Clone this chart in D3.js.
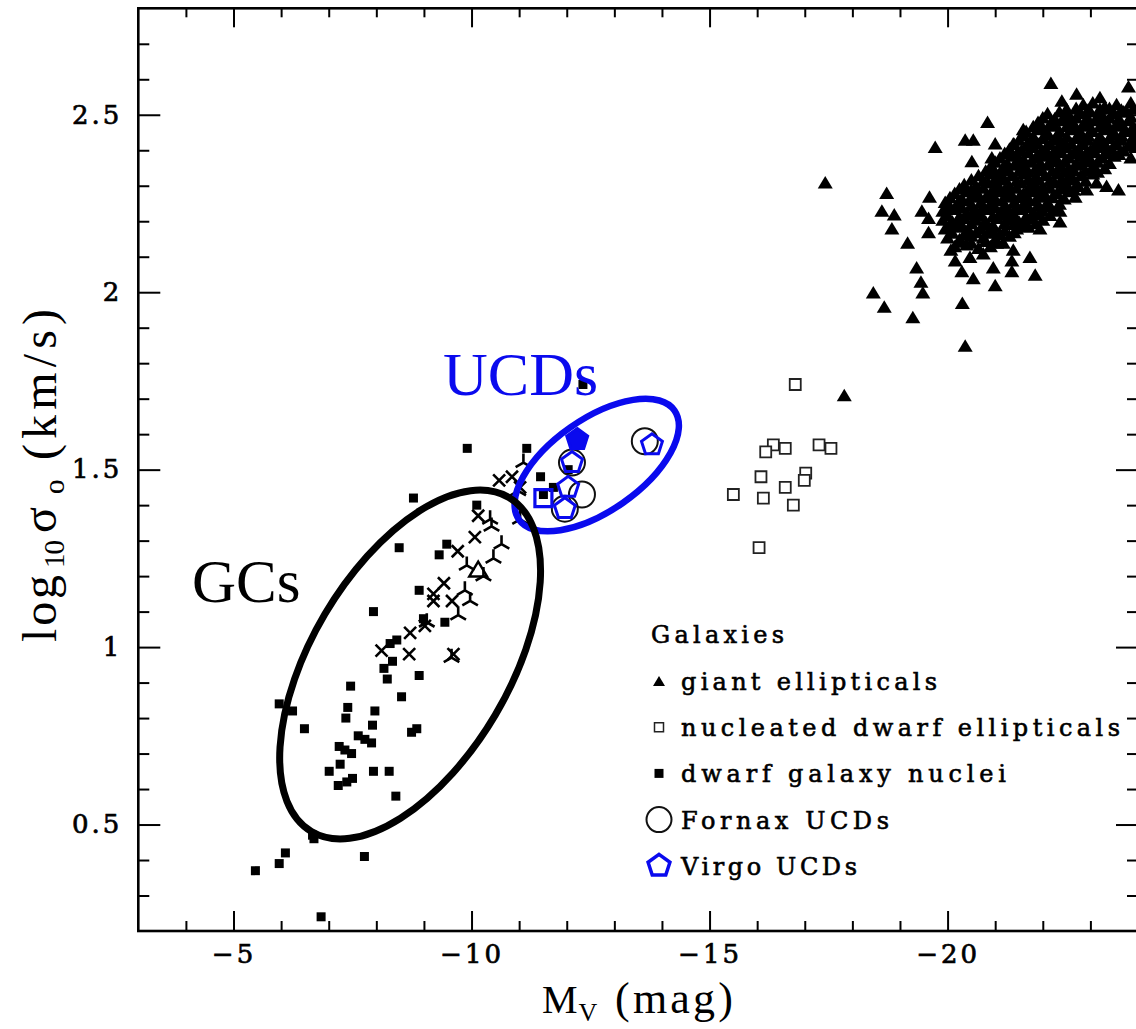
<!DOCTYPE html>
<html>
<head>
<meta charset="utf-8">
<script src="https://cdn.jsdelivr.net/npm/d3@7"></script>
<style>
  html, body { margin: 0; padding: 0; background: #fff; }
  svg { display: block; }
</style>
</head>
<body>
<script>
// ---- Data: absolute magnitude M_V (mag) and log10 of central velocity dispersion (km/s) ----

const xMajorTicks = [-5, -10, -15, -20];
const xMinorTicks = [-4, -6, -7, -8, -9, -11, -12, -13, -14, -16, -17, -18, -19, -21, -22, -23];
const yMajorTicks = [0.5, 1, 1.5, 2, 2.5];
const yMinorTicks = [0.3, 0.4, 0.6, 0.7, 0.8, 0.9, 1.1, 1.2, 1.3, 1.4, 1.6, 1.7, 1.8, 1.9, 2.1, 2.2, 2.3, 2.4, 2.6, 2.7];

// giant ellipticals (filled triangles)
const giantEllipticals = [
  [-17.43,2.31],[-17.83,1.71],[-18.72,2.28],[-18.62,2.23],[-18.88,2.22],[-18.83,2.18],[-19.16,2.14],
  [-19.35,2.07],[-19.44,2.03],[-19.48,2.00],[-18.44,2.00],[-18.67,1.96],[-19.27,1.93],[-20.31,1.97],
  [-20.37,1.85],[-19.74,2.41],[-20.84,2.48],[-19.62,2.27],[-19.46,2.23],[-19.60,2.21],[-19.60,2.17],
  [-20.37,2.43],[-20.54,2.43],[-21.00,2.42],[-20.51,2.37],[-21.59,2.46],[-21.38,2.42],[-22.17,2.59],
  [-22.71,2.56],[-22.40,2.54],[-23.20,2.55],[-23.80,2.58],[-23.76,2.51],[-23.13,2.31],[-23.34,2.30],
  [-23.59,2.29],[-22.92,2.29],[-22.68,2.27],[-22.36,2.23],[-22.36,2.20],[-21.94,2.18],[-21.73,2.10],
  [-21.84,2.05],[-21.38,2.12],[-21.35,2.09],[-21.35,2.06],[-20.96,2.07],[-21.00,2.02],[-20.54,2.04],
  [-20.30,2.06],[-20.16,2.09],[-20.07,2.12],[-20.47,2.10],[-20.75,2.11],[-21.03,2.14],[-21.17,2.14],
  [-20.96,2.17],[-20.93,2.38],
  [-22.85,2.53],[-23.05,2.535],[-23.30,2.525],[-23.55,2.53],[-23.85,2.535],
  [-22.50,2.518],[-22.70,2.52],[-22.95,2.515],[-23.20,2.518],[-23.40,2.52],[-23.65,2.515],[-23.90,2.518],
  [-22.10,2.505],[-22.35,2.51],[-22.55,2.50],[-22.80,2.505],[-23.00,2.51],[-23.25,2.50],[-23.50,2.505],[-23.70,2.51],
  [-22.00,2.493],[-22.25,2.49],[-22.50,2.495],[-22.70,2.493],[-22.95,2.49],[-23.15,2.495],[-23.40,2.493],[-23.60,2.49],[-23.85,2.495],
  [-21.90,2.48],[-22.15,2.475],[-22.40,2.485],[-22.60,2.48],[-22.85,2.475],[-23.10,2.485],[-23.30,2.48],[-23.55,2.475],[-23.80,2.485],
  [-21.80,2.468],[-22.00,2.465],[-22.25,2.47],[-22.50,2.468],[-22.70,2.465],[-22.95,2.47],[-23.20,2.468],[-23.40,2.465],[-23.65,2.47],[-23.90,2.468],
  [-21.65,2.455],[-21.90,2.46],[-22.10,2.45],[-22.35,2.455],[-22.60,2.46],[-22.80,2.45],[-23.05,2.455],[-23.30,2.46],[-23.50,2.45],[-23.75,2.455],[-23.95,2.46],
  [-21.60,2.443],[-21.80,2.44],[-22.05,2.445],[-22.30,2.443],[-22.50,2.44],[-22.75,2.445],[-22.95,2.443],[-23.20,2.44],[-23.45,2.445],[-23.65,2.443],[-23.90,2.44],
  [-21.50,2.43],[-21.75,2.425],[-22.00,2.435],[-22.25,2.43],[-22.45,2.425],[-22.70,2.435],[-22.95,2.43],[-23.20,2.425],[-23.40,2.435],[-23.65,2.43],[-23.90,2.425],
  [-21.40,2.418],[-21.65,2.415],[-21.90,2.42],[-22.15,2.418],[-22.35,2.415],[-22.60,2.42],[-22.85,2.418],[-23.10,2.415],[-23.30,2.42],[-23.55,2.418],[-23.80,2.415],
  [-21.30,2.405],[-21.55,2.40],[-21.80,2.41],[-22.05,2.405],[-22.30,2.40],[-22.50,2.41],[-22.75,2.405],[-23.00,2.40],[-23.25,2.41],[-23.45,2.405],[-23.70,2.40],[-23.95,2.41],
  [-21.20,2.393],[-21.45,2.39],[-21.70,2.395],[-21.95,2.393],[-22.20,2.39],[-22.40,2.395],[-22.65,2.393],[-22.90,2.39],[-23.10,2.395],[-23.35,2.393],[-23.60,2.39],
  [-21.10,2.38],[-21.35,2.385],[-21.60,2.375],[-21.85,2.38],[-22.10,2.385],[-22.30,2.375],[-22.55,2.38],[-22.80,2.385],[-23.00,2.375],[-23.25,2.38],[-23.50,2.385],[-23.85,2.38],
  [-21.00,2.368],[-21.25,2.365],[-21.50,2.37],[-21.75,2.368],[-21.95,2.365],[-22.20,2.37],[-22.45,2.368],[-22.70,2.365],[-22.90,2.37],[-23.15,2.368],[-23.40,2.365],
  [-20.90,2.355],[-21.15,2.35],[-21.40,2.36],[-21.60,2.355],[-21.85,2.35],[-22.10,2.36],[-22.35,2.355],[-22.55,2.35],[-22.80,2.36],[-23.05,2.355],[-23.30,2.35],
  [-20.80,2.343],[-21.00,2.34],[-21.25,2.345],[-21.50,2.343],[-21.70,2.34],[-21.95,2.345],[-22.20,2.343],[-22.45,2.34],[-22.65,2.345],[-22.90,2.343],[-23.15,2.34],
  [-20.65,2.33],[-20.90,2.335],[-21.10,2.325],[-21.35,2.33],[-21.60,2.335],[-21.85,2.325],[-22.05,2.33],[-22.30,2.335],[-22.55,2.325],[-22.80,2.33],[-23.05,2.335],
  [-20.50,2.318],[-20.75,2.315],[-21.00,2.32],[-21.20,2.318],[-21.45,2.315],[-21.70,2.32],[-21.90,2.318],[-22.15,2.315],[-22.40,2.32],[-22.65,2.318],[-22.90,2.315],
  [-20.35,2.305],[-20.60,2.30],[-20.85,2.31],[-21.05,2.305],[-21.30,2.30],[-21.55,2.31],[-21.80,2.305],[-22.00,2.30],[-22.25,2.31],[-22.50,2.305],[-22.75,2.30],
  [-20.25,2.293],[-20.50,2.29],[-20.75,2.295],[-21.00,2.293],[-21.20,2.29],[-21.45,2.295],[-21.70,2.293],[-21.90,2.29],[-22.15,2.295],[-22.40,2.293],[-22.65,2.29],
  [-20.15,2.28],[-20.40,2.285],[-20.65,2.275],[-20.90,2.28],[-21.10,2.285],[-21.35,2.275],[-21.60,2.28],[-21.80,2.285],[-22.05,2.275],[-22.30,2.28],[-22.55,2.285],
  [-20.05,2.268],[-20.30,2.265],[-20.55,2.27],[-20.80,2.268],[-21.00,2.265],[-21.25,2.27],[-21.50,2.268],[-21.70,2.265],[-21.95,2.27],[-22.20,2.268],[-22.45,2.265],
  [-19.95,2.255],[-20.20,2.25],[-20.45,2.26],[-20.70,2.255],[-20.90,2.25],[-21.15,2.26],[-21.40,2.255],[-21.60,2.25],[-21.85,2.26],[-22.10,2.255],[-22.35,2.25],
  [-20.05,2.243],[-20.30,2.24],[-20.50,2.245],[-20.75,2.243],[-21.00,2.24],[-21.20,2.245],[-21.45,2.243],[-21.70,2.24],[-21.90,2.245],[-22.15,2.243],
  [-19.90,2.23],[-20.15,2.235],[-20.40,2.225],[-20.60,2.23],[-20.85,2.235],[-21.10,2.225],[-21.30,2.23],[-21.55,2.235],[-21.80,2.225],[-22.00,2.23],[-22.30,2.235],
  [-20.00,2.218],[-20.25,2.215],[-20.50,2.22],[-20.70,2.218],[-20.95,2.215],[-21.20,2.22],[-21.40,2.218],[-21.65,2.215],[-21.90,2.22],[-22.15,2.218],
  [-19.90,2.205],[-20.10,2.20],[-20.35,2.21],[-20.60,2.205],[-20.80,2.20],[-21.05,2.21],[-21.30,2.205],[-21.50,2.20],[-21.75,2.21],[-22.00,2.205],
  [-20.05,2.193],[-20.30,2.19],[-20.50,2.195],[-20.75,2.193],[-20.95,2.19],[-21.20,2.195],[-21.40,2.193],[-21.60,2.19],[-21.85,2.195],
  [-19.95,2.18],[-20.20,2.185],[-20.45,2.175],[-20.70,2.18],[-20.95,2.185],[-21.20,2.175],[-21.45,2.18],[-21.70,2.185],
  [-20.10,2.168],[-20.35,2.165],[-20.60,2.17],[-20.85,2.168],[-21.10,2.165],[-21.40,2.17],
  [-20.00,2.155],[-20.25,2.15],[-20.50,2.16],[-20.75,2.155],[-21.00,2.15],[-21.30,2.16],
  [-20.30,2.143],[-20.50,2.14],[-20.80,2.145],[-21.05,2.143],
  [-20.15,2.13],[-20.40,2.135],[-20.65,2.125],[-20.90,2.13]
];

// nucleated dwarf ellipticals (open squares)
const nucleatedDwarfEllipticals = [
  [-16.80,1.74],[-16.34,1.57],[-16.18,1.55],[-16.59,1.56],[-17.30,1.57],[-17.55,1.56],[-16.08,1.48],
  [-17.02,1.49],[-16.99,1.47],[-15.50,1.43],[-16.59,1.45],[-16.13,1.42],[-16.76,1.40],[-16.04,1.28]
];

// dwarf galaxy nuclei (filled squares)
const dwarfGalaxyNuclei = [
  [-9.91,1.56],[-11.16,1.56],[-8.78,1.42],[-10.11,1.40],[-8.48,1.28],[-9.32,1.26],[-9.48,1.29],
  [-8.90,1.16],[-7.94,1.10],[-9.44,1.07],[-8.99,1.08],[-8.29,1.01],[-8.43,1.02],[-8.34,0.96],
  [-8.16,0.94],[-8.23,0.91],[-8.90,0.92],[-7.46,0.89],[-8.53,0.86],[-5.96,0.84],[-6.24,0.82],
  [-7.40,0.83],[-7.97,0.82],[-7.36,0.80],[-7.92,0.78],[-6.49,0.77],[-8.85,0.77],[-8.74,0.76],
  [-7.62,0.75],[-7.76,0.74],[-7.90,0.73],[-7.22,0.72],[-7.34,0.71],[-7.48,0.70],[-7.01,0.65],
  [-7.24,0.67],[-7.94,0.65],[-8.27,0.65],[-7.50,0.63],[-7.38,0.62],[-7.20,0.61],[-8.41,0.58],
  [-6.66,0.47],[-6.69,0.46],[-6.09,0.42],[-5.96,0.39],[-5.46,0.37],[-7.75,0.41],[-6.84,0.24],
  [-11.45,1.48],[-11.72,1.45],[-12.03,1.50],[-12.34,1.74],[-11.51,1.43]
];

// globular clusters: crosses
const gcCrosses = [
  [-10.58,1.47],[-10.14,1.37],[-10.07,1.31],[-9.71,1.27],[-9.42,1.18],[-9.20,1.15],[-9.20,1.13],
  [-9.59,1.13],[-8.71,1.04],[-8.11,0.99],[-8.69,0.98],[-9.02,1.06],[-9.62,0.98],[-10.85,1.48],[-11.02,1.45]
];

// globular clusters: three-armed stars
const gcTripods = [
  [-10.42,1.34],[-10.63,1.29],[-10.46,1.25],[-9.90,1.23],[-10.25,1.20],[-9.86,1.16],[-9.97,1.13],
  [-9.72,1.09],[-9.06,1.07],[-9.58,0.97],[-11.02,1.36],[-11.09,1.52],[-10.98,1.44],[-10.39,1.36]
];

// globular cluster: open triangle
const gcTriangle = [[-10.14,1.22]];

// Fornax UCDs (open circles)
const fornaxUCDs = [[-12.11,1.52],[-12.32,1.43],[-11.96,1.39],[-13.64,1.58]];

// Virgo UCDs (blue pentagons)
const virgoUCDs = [[-12.11,1.52],[-12.03,1.45],[-11.96,1.39],[-13.79,1.57]];
const virgoSolid = [[-12.22,1.585]];
const blueSquares = [[-11.51,1.42]];

// annotation ellipses: centre in data units, semi-axes / tilt in screen pixels
const gcEllipse = { mv: -8.71, logSigma: 0.951, a: 194, b: 99, tilt: -59.4 };
const ucdEllipse = { mv: -12.63, logSigma: 1.513, a: 95, b: 46, tilt: -35 };

const legendItems = [
  { label: "giant ellipticals", key: "tri", len: 256 },
  { label: "nucleated dwarf ellipticals", key: "osq", len: 439 },
  { label: "dwarf galaxy nuclei", key: "fsq", len: 325 },
  { label: "Fornax UCDs", key: "circ", len: 208 },
  { label: "Virgo UCDs", key: "pent", len: 176 }
];

// ---- Layout ----
const W = 1136, H = 1029;
const P = { left: 138.3, right: 1138, top: 8.3, bottom: 931 };
const BLUE = "#0a0aee";

const x = d3.scaleLinear().domain([-3, -24]).range([P.left, P.right]);
const y = d3.scaleLinear().domain([0.2, 2.8]).range([P.bottom, P.top]);

const svg = d3.select("body").append("svg")
  .attr("width", W).attr("height", H)
  .attr("viewBox", `0 0 ${W} ${H}`);

svg.append("rect").attr("width", W).attr("height", H).attr("fill", "#fff");

svg.append("clipPath").attr("id", "plotClip")
  .append("rect").attr("x", P.left).attr("y", P.top)
  .attr("width", P.right - P.left).attr("height", P.bottom - P.top);

// ---- Symbol paths ----
const triPath = (w, h) => `M0,${-h/2}L${w/2},${h/2}L${-w/2},${h/2}Z`;
const sqPath = s => `M${-s/2},${-s/2}h${s}v${s}h${-s}Z`;
const crossPath = r => `M${-r},${-r}L${r},${r}M${-r},${r}L${r},${-r}`;
const tripodPath = r => {
  const c = Math.cos(Math.PI / 6) * r, s = Math.sin(Math.PI / 6) * r;
  return `M0,0L0,${-r}M0,0L${-c},${s}M0,0L${c},${s}`;
};
const pentPath = r => {
  const pts = d3.range(5).map(k => {
    const a = -Math.PI / 2 + k * 2 * Math.PI / 5;
    return [r * Math.cos(a), r * Math.sin(a)];
  });
  return "M" + pts.map(p => p.join(",")).join("L") + "Z";
};

const marks = svg.append("g").attr("clip-path", "url(#plotClip)");
const place = d => `translate(${x(d[0])},${y(d[1])})`;

function drawSeries(data, path, style) {
  const sel = marks.append("g").selectAll("path").data(data).join("path")
    .attr("transform", place).attr("d", path);
  Object.entries(style).forEach(([k, v]) => sel.attr(k, v));
  return sel;
}

drawSeries(giantEllipticals, triPath(15, 12.5), { fill: "#000" });
drawSeries(nucleatedDwarfEllipticals, sqPath(11), { fill: "#fff", stroke: "#222", "stroke-width": 1.8 });
drawSeries(gcCrosses, crossPath(6), { fill: "none", stroke: "#000", "stroke-width": 2.6 });
drawSeries(gcTripods, tripodPath(9), { fill: "none", stroke: "#000", "stroke-width": 2.6 });
drawSeries(dwarfGalaxyNuclei, sqPath(9), { fill: "#000" });
drawSeries(gcTriangle, triPath(18, 15), { fill: "none", stroke: "#000", "stroke-width": 2.4 });
drawSeries(fornaxUCDs, "M13,0A13,13 0 1 1 -13,0A13,13 0 1 1 13,0Z", { fill: "none", stroke: "#111", "stroke-width": 2 });
drawSeries(blueSquares, sqPath(17), { fill: "none", stroke: BLUE, "stroke-width": 3.2 });
drawSeries(virgoUCDs, pentPath(11), { fill: "none", stroke: BLUE, "stroke-width": 3 });
drawSeries(virgoSolid, pentPath(11), { fill: BLUE, stroke: BLUE, "stroke-width": 3 });

// ---- Annotation ellipses and labels ----
function drawEllipse(e, color, sw) {
  svg.append("ellipse")
    .attr("transform", `translate(${x(e.mv)},${y(e.logSigma)}) rotate(${e.tilt})`)
    .attr("rx", e.a).attr("ry", e.b)
    .attr("fill", "none").attr("stroke", color).attr("stroke-width", sw);
}
drawEllipse(ucdEllipse, BLUE, 6.5);
drawEllipse(gcEllipse, "#000", 7);

svg.append("text").attr("x", 192).attr("y", 602)
  .attr("font-family", "Liberation Serif, serif").attr("font-size", 61)
  .attr("fill", "#000").text("GCs");
svg.append("text").attr("x", 443).attr("y", 395)
  .attr("font-family", "Liberation Serif, serif").attr("font-size", 62)
  .attr("fill", BLUE).text("UCDs");

// ---- Axes: inward ticks on all four sides ----
const tickFont = "DejaVu Serif, serif";
function styleAxis(g) {
  g.select(".domain").remove();
  g.selectAll(".tick line").attr("stroke", "#000").attr("stroke-width", 2);
  g.selectAll("text").attr("font-family", tickFont).attr("font-size", 26)
    .attr("fill", "#000").attr("stroke", "#000").attr("stroke-width", 0.7)
    .attr("letter-spacing", 3);
}
const axes = svg.append("g");
axes.append("g").attr("transform", `translate(0,${P.bottom})`)
  .call(d3.axisBottom(x).tickValues(xMajorTicks).tickSizeInner(-20).tickSizeOuter(0).tickPadding(14).tickFormat(d3.format("")))
  .call(styleAxis);
axes.append("g").attr("transform", `translate(0,${P.bottom})`)
  .call(d3.axisBottom(x).tickValues(xMinorTicks).tickSizeInner(-10).tickSizeOuter(0).tickFormat(""))
  .call(styleAxis);
axes.append("g").attr("transform", `translate(0,${P.top})`)
  .call(d3.axisTop(x).tickValues(xMajorTicks).tickSizeInner(-19).tickSizeOuter(0).tickFormat(""))
  .call(styleAxis);
axes.append("g").attr("transform", `translate(0,${P.top})`)
  .call(d3.axisTop(x).tickValues(xMinorTicks).tickSizeInner(-9).tickSizeOuter(0).tickFormat(""))
  .call(styleAxis);
axes.append("g").attr("transform", `translate(${P.left},0)`)
  .call(d3.axisLeft(y).tickValues(yMajorTicks).tickSizeInner(-22).tickSizeOuter(0).tickPadding(16).tickFormat(d3.format("")))
  .call(styleAxis);
axes.append("g").attr("transform", `translate(${P.left},0)`)
  .call(d3.axisLeft(y).tickValues(yMinorTicks).tickSizeInner(-11).tickSizeOuter(0).tickFormat(""))
  .call(styleAxis);
axes.append("g").attr("transform", `translate(${P.right},0)`)
  .call(d3.axisRight(y).tickValues(yMajorTicks).tickSizeInner(-22).tickSizeOuter(0).tickFormat(""))
  .call(styleAxis);
axes.append("g").attr("transform", `translate(${P.right},0)`)
  .call(d3.axisRight(y).tickValues(yMinorTicks).tickSizeInner(-11).tickSizeOuter(0).tickFormat(""))
  .call(styleAxis);

svg.append("rect")
  .attr("x", P.left).attr("y", P.top)
  .attr("width", P.right - P.left).attr("height", P.bottom - P.top)
  .attr("fill", "none").attr("stroke", "#000").attr("stroke-width", 2.6);

// ---- Axis titles ----
const titleFont = "Liberation Serif, serif";
const xt = svg.append("text").attr("x", 542).attr("y", 1013)
  .attr("font-family", titleFont).attr("font-size", 40).attr("fill", "#000");
xt.append("tspan").text("M");
xt.append("tspan").attr("font-size", 26).attr("dy", 8).attr("dx", 1).text("V");
svg.append("text").attr("x", 615).attr("y", 1013)
  .attr("font-family", titleFont).attr("font-size", 44).attr("fill", "#000")
  .attr("textLength", 118).attr("lengthAdjust", "spacing").text("(mag)");

// vertical title, set piece by piece along the left margin (bottom to top)
const yTitleParts = [
  { t: "log", at: 642, size: 48, sub: false, len: 67 },
  { t: "10", at: 568, size: 29, sub: true, len: 28 },
  { t: "σ", at: 533, size: 48, sub: false, len: null },
  { t: "o", at: 494, size: 29, sub: true, len: null },
  { t: "(km/s)", at: 460, size: 48, sub: false, len: 151 }
];
yTitleParts.forEach(p => {
  const t = svg.append("text")
    .attr("transform", `translate(${p.sub ? 64 : 56},${p.at}) rotate(-90)`)
    .attr("font-family", titleFont).attr("font-size", p.size).attr("fill", "#000")
    .text(p.t);
  if (p.len) t.attr("textLength", p.len).attr("lengthAdjust", "spacing");
});

// ---- Legend ----
const legendFont = "DejaVu Serif, serif";
const lg = svg.append("g");
lg.append("text").attr("x", 651).attr("y", 643)
  .attr("font-family", legendFont).attr("font-size", 24).attr("fill", "#000")
  .attr("stroke", "#000").attr("stroke-width", 0.6)
  .attr("textLength", 133).attr("lengthAdjust", "spacing").text("Galaxies");

const legendSymbols = {
  tri: g => g.append("path").attr("d", triPath(12, 10)).attr("fill", "#000"),
  osq: g => g.append("path").attr("d", sqPath(9)).attr("fill", "#fff").attr("stroke", "#222").attr("stroke-width", 1.5),
  fsq: g => g.append("path").attr("d", sqPath(9)).attr("fill", "#000"),
  circ: g => g.append("circle").attr("r", 12.5).attr("fill", "none").attr("stroke", "#111").attr("stroke-width", 2),
  pent: g => g.append("path").attr("d", pentPath(11.5)).attr("fill", "none").attr("stroke", BLUE).attr("stroke-width", 3.5)
};
legendItems.forEach((it, i) => {
  const cy = 681 + i * 46.2;
  legendSymbols[it.key](lg.append("g").attr("transform", `translate(659,${cy})`));
  lg.append("text").attr("x", 681).attr("y", cy + 9)
    .attr("font-family", legendFont).attr("font-size", 24).attr("fill", "#000")
    .attr("stroke", "#000").attr("stroke-width", 0.6)
    .attr("textLength", it.len).attr("lengthAdjust", "spacing").text(it.label);
});
</script>
</body>
</html>
